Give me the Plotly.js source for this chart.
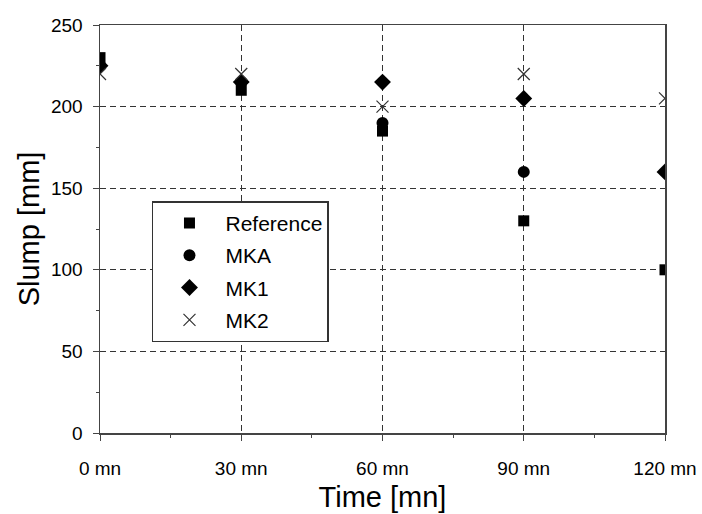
<!DOCTYPE html>
<html>
<head>
<meta charset="utf-8">
<script src="https://cdn.plot.ly/plotly-3.0.1.min.js"></script>
<style>html,body{margin:0;padding:0;background:#fff;}#chart{width:702px;height:514px;}</style>
</head>
<body>
<div id="chart"></div>
<script>
const times = [0, 30, 60, 90, 120];
const tickLabels = ["0 mn", "30 mn", "60 mn", "90 mn", "120 mn"];
const seriesNames = ["Reference", "MKA", "MK1", "MK2"];
const reference = [230, 210, 185, 130, 100];
const mka = [225, 215, 190, 160, null];
const mk1 = [225, 215, 215, 205, 160];
const mk2 = [220, 220, 200, 220, 205];

const symbols = ["square", "circle", "diamond", "x-thin-open"];
const sizes = [11, 12, 13, 12];
const allValues = [reference, mka, mk1, mk2];

const traces = allValues.map((vals, i) => ({
  type: "scatter",
  mode: "markers",
  x: times,
  y: vals,
  name: seriesNames[i],
  legendgroup: "g" + i,
  marker: {
    symbol: symbols[i],
    size: sizes[i],
    color: i === 3 ? "#333" : "#000",
    line: i === 3 ? {color: "#333", width: 1.2} : {width: 0}
  }
}));

const font = "Liberation Sans, Arial, sans-serif";
const layout = {
  width: 702, height: 514,
  margin: {l: 100, r: 37, t: 25, b: 81},
  paper_bgcolor: "#fff", plot_bgcolor: "#fff",
  showlegend: true,
  legend: {
    x: 0.092, y: 0.568, xanchor: "left", yanchor: "top",
    bgcolor: "#fff", bordercolor: "#333", borderwidth: 1.5,
    font: {family: font, size: 21, color: "#000"},
    tracegroupgap: 2, itemwidth: 62
  },
  xaxis: {
    range: [0, 120], tickvals: times, ticktext: tickLabels,
    showline: true, linecolor: "#444", linewidth: 1.5, mirror: true,
    ticks: "outside", ticklen: 6, tickcolor: "#444", tickwidth: 1,
    minor: {dtick: 15, ticks: "outside", ticklen: 3, tickcolor: "#444", showgrid: false},
    showgrid: true, gridcolor: "#333", griddash: "6px,4px", gridwidth: 1,
    zeroline: false, ticklabelstandoff: 12,
    tickfont: {family: font, size: 19, color: "#000"},
    title: {text: "Time [mn]", font: {family: font, size: 29, color: "#000"}, standoff: 8}
  },
  yaxis: {
    range: [0, 250], tickvals: [0, 50, 100, 150, 200, 250],
    showline: true, linecolor: "#444", linewidth: 1.5, mirror: true,
    ticks: "outside", ticklen: 6, tickcolor: "#444", tickwidth: 1,
    minor: {dtick: 25, ticks: "outside", ticklen: 3, tickcolor: "#444", showgrid: false},
    showgrid: true, gridcolor: "#333", griddash: "6px,4px", gridwidth: 1,
    zeroline: false, ticklabelstandoff: 6,
    tickfont: {family: font, size: 19, color: "#000"},
    title: {text: "Slump [mm]", font: {family: font, size: 29, color: "#000"}, standoff: 3}
  }
};

Plotly.newPlot("chart", traces, layout, {displayModeBar: false, staticPlot: true});
</script>
</body>
</html>
